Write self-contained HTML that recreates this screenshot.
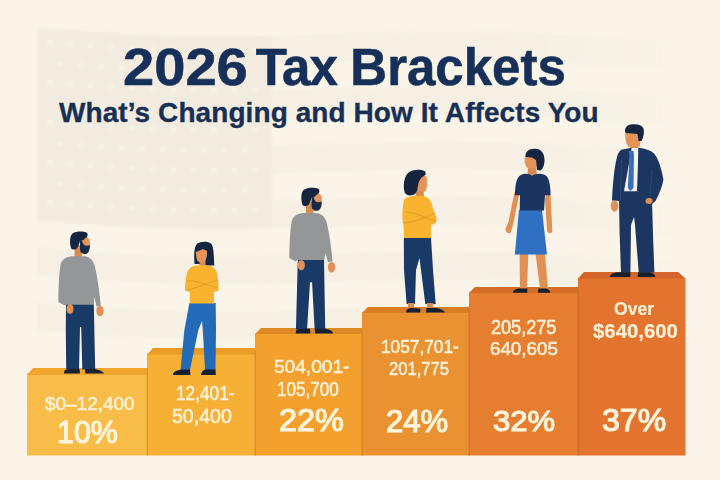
<!DOCTYPE html>
<html><head><meta charset="utf-8">
<style>
html,body{margin:0;padding:0;width:720px;height:480px;overflow:hidden;background:#faf4e9;}
body{position:relative;font-family:"Liberation Sans", sans-serif;}
.t{position:absolute;white-space:nowrap;line-height:1;}
.title{top:42px;font-size:51px;font-weight:bold;color:#16305a;-webkit-text-stroke:0.6px #16305a;}
.sub{left:59px;top:98.5px;font-size:28px;font-weight:bold;color:#182f55;-webkit-text-stroke:0.35px #182f55;letter-spacing:0.08px;}
.rng{font-size:19px;color:#fdf0d4;-webkit-text-stroke:0.6px #fdf0d4;}
.pct{font-size:29.5px;font-weight:normal;color:#fff4dc;-webkit-text-stroke:1.2px #fff4dc;}
svg{position:absolute;left:0;top:0;}
</style></head><body>
<svg width="720" height="480" viewBox="0 0 720 480" style="position:absolute;left:0;top:0;filter:blur(1.2px);-webkit-mask-image:linear-gradient(to right,#000 75%,transparent 95%);mask-image:linear-gradient(to right,#000 75%,transparent 95%);">

<g><g id="flag"><polygon points="37,28.0 47,28.7 57,29.4 67,30.2 77,30.8 87,31.5 97,32.2 107,32.8 117,33.3 127,33.9 137,34.3 147,34.8 157,35.2 167,35.5 177,35.8 187,36.0 197,36.2 207,36.3 217,36.3 227,36.3 237,36.3 247,36.2 257,36.1 267,35.9 277,35.7 287,35.4 297,35.2 307,34.9 317,34.6 327,34.2 337,33.9 347,33.6 357,33.3 367,33.0 377,32.7 387,32.4 397,32.2 407,32.0 417,31.8 427,31.7 437,31.6 447,31.6 457,31.6 467,31.7 477,31.8 487,32.0 497,32.2 507,32.5 517,32.9 527,33.3 537,33.7 547,34.2 557,34.8 567,35.4 577,36.0 587,36.6 597,37.3 607,38.0 617,38.7 627,39.4 637,40.2 647,40.9 657,41.6 667,42.3 677,43.0 680,43.2 680,70.7 677,70.5 667,69.8 657,69.1 647,68.4 637,67.7 627,66.9 617,66.2 607,65.5 597,64.8 587,64.1 577,63.5 567,62.9 557,62.3 547,61.7 537,61.2 527,60.8 517,60.4 507,60.0 497,59.7 487,59.5 477,59.3 467,59.2 457,59.1 447,59.1 437,59.1 427,59.2 417,59.3 407,59.5 397,59.7 387,59.9 377,60.2 367,60.5 357,60.8 347,61.1 337,61.4 327,61.7 317,62.1 307,62.4 297,62.7 287,62.9 277,63.2 267,63.4 257,63.6 247,63.7 237,63.8 227,63.8 217,63.8 207,63.8 197,63.7 187,63.5 177,63.3 167,63.0 157,62.7 147,62.3 137,61.8 127,61.4 117,60.8 107,60.3 97,59.7 87,59.0 77,58.3 67,57.7 57,56.9 47,56.2 37,55.5" fill="#f5efe4"/><polygon points="37,83.0 47,83.7 57,84.4 67,85.2 77,85.8 87,86.5 97,87.2 107,87.8 117,88.3 127,88.9 137,89.3 147,89.8 157,90.2 167,90.5 177,90.8 187,91.0 197,91.2 207,91.3 217,91.3 227,91.3 237,91.3 247,91.2 257,91.1 267,90.9 277,90.7 287,90.4 297,90.2 307,89.9 317,89.6 327,89.2 337,88.9 347,88.6 357,88.3 367,88.0 377,87.7 387,87.4 397,87.2 407,87.0 417,86.8 427,86.7 437,86.6 447,86.6 457,86.6 467,86.7 477,86.8 487,87.0 497,87.2 507,87.5 517,87.9 527,88.3 537,88.7 547,89.2 557,89.8 567,90.4 577,91.0 587,91.6 597,92.3 607,93.0 617,93.7 627,94.4 637,95.2 647,95.9 657,96.6 667,97.3 677,98.0 680,98.2 680,125.7 677,125.5 667,124.8 657,124.1 647,123.4 637,122.7 627,121.9 617,121.2 607,120.5 597,119.8 587,119.1 577,118.5 567,117.9 557,117.3 547,116.7 537,116.2 527,115.8 517,115.4 507,115.0 497,114.7 487,114.5 477,114.3 467,114.2 457,114.1 447,114.1 437,114.1 427,114.2 417,114.3 407,114.5 397,114.7 387,114.9 377,115.2 367,115.5 357,115.8 347,116.1 337,116.4 327,116.7 317,117.1 307,117.4 297,117.7 287,117.9 277,118.2 267,118.4 257,118.6 247,118.7 237,118.8 227,118.8 217,118.8 207,118.8 197,118.7 187,118.5 177,118.3 167,118.0 157,117.7 147,117.3 137,116.8 127,116.4 117,115.8 107,115.3 97,114.7 87,114.0 77,113.3 67,112.7 57,111.9 47,111.2 37,110.5" fill="#f5efe4"/><polygon points="37,138.0 47,138.7 57,139.4 67,140.2 77,140.8 87,141.5 97,142.2 107,142.8 117,143.3 127,143.9 137,144.3 147,144.8 157,145.2 167,145.5 177,145.8 187,146.0 197,146.2 207,146.3 217,146.3 227,146.3 237,146.3 247,146.2 257,146.1 267,145.9 277,145.7 287,145.4 297,145.2 307,144.9 317,144.6 327,144.2 337,143.9 347,143.6 357,143.3 367,143.0 377,142.7 387,142.4 397,142.2 407,142.0 417,141.8 427,141.7 437,141.6 447,141.6 457,141.6 467,141.7 477,141.8 487,142.0 497,142.2 507,142.5 517,142.9 527,143.3 537,143.7 547,144.2 557,144.8 567,145.4 577,146.0 587,146.6 597,147.3 607,148.0 617,148.7 627,149.4 637,150.2 647,150.9 657,151.6 667,152.3 677,153.0 680,153.2 680,180.7 677,180.5 667,179.8 657,179.1 647,178.4 637,177.7 627,176.9 617,176.2 607,175.5 597,174.8 587,174.1 577,173.5 567,172.9 557,172.3 547,171.7 537,171.2 527,170.8 517,170.4 507,170.0 497,169.7 487,169.5 477,169.3 467,169.2 457,169.1 447,169.1 437,169.1 427,169.2 417,169.3 407,169.5 397,169.7 387,169.9 377,170.2 367,170.5 357,170.8 347,171.1 337,171.4 327,171.7 317,172.1 307,172.4 297,172.7 287,172.9 277,173.2 267,173.4 257,173.6 247,173.7 237,173.8 227,173.8 217,173.8 207,173.8 197,173.7 187,173.5 177,173.3 167,173.0 157,172.7 147,172.3 137,171.8 127,171.4 117,170.8 107,170.3 97,169.7 87,169.0 77,168.3 67,167.7 57,166.9 47,166.2 37,165.5" fill="#f5efe4"/><polygon points="37,193.0 47,193.7 57,194.4 67,195.2 77,195.8 87,196.5 97,197.2 107,197.8 117,198.3 127,198.9 137,199.3 147,199.8 157,200.2 167,200.5 177,200.8 187,201.0 197,201.2 207,201.3 217,201.3 227,201.3 237,201.3 247,201.2 257,201.1 267,200.9 277,200.7 287,200.4 297,200.2 307,199.9 317,199.6 327,199.2 337,198.9 347,198.6 357,198.3 367,198.0 377,197.7 387,197.4 397,197.2 407,197.0 417,196.8 427,196.7 437,196.6 447,196.6 457,196.6 467,196.7 477,196.8 487,197.0 497,197.2 507,197.5 517,197.9 527,198.3 537,198.7 547,199.2 557,199.8 567,200.4 577,201.0 587,201.6 597,202.3 607,203.0 617,203.7 627,204.4 637,205.2 647,205.9 657,206.6 667,207.3 677,208.0 680,208.2 680,235.7 677,235.5 667,234.8 657,234.1 647,233.4 637,232.7 627,231.9 617,231.2 607,230.5 597,229.8 587,229.1 577,228.5 567,227.9 557,227.3 547,226.7 537,226.2 527,225.8 517,225.4 507,225.0 497,224.7 487,224.5 477,224.3 467,224.2 457,224.1 447,224.1 437,224.1 427,224.2 417,224.3 407,224.5 397,224.7 387,224.9 377,225.2 367,225.5 357,225.8 347,226.1 337,226.4 327,226.7 317,227.1 307,227.4 297,227.7 287,227.9 277,228.2 267,228.4 257,228.6 247,228.7 237,228.8 227,228.8 217,228.8 207,228.8 197,228.7 187,228.5 177,228.3 167,228.0 157,227.7 147,227.3 137,226.8 127,226.4 117,225.8 107,225.3 97,224.7 87,224.0 77,223.3 67,222.7 57,221.9 47,221.2 37,220.5" fill="#f5efe4"/><polygon points="37,248.0 47,248.7 57,249.4 67,250.2 77,250.8 87,251.5 97,252.2 107,252.8 117,253.3 127,253.9 137,254.3 147,254.8 157,255.2 167,255.5 177,255.8 187,256.0 197,256.2 207,256.3 217,256.3 227,256.3 237,256.3 247,256.2 257,256.1 267,255.9 277,255.7 287,255.4 297,255.2 307,254.9 317,254.6 327,254.2 337,253.9 347,253.6 357,253.3 367,253.0 377,252.7 387,252.4 397,252.2 407,252.0 417,251.8 427,251.7 437,251.6 447,251.6 457,251.6 467,251.7 477,251.8 487,252.0 497,252.2 507,252.5 517,252.9 527,253.3 537,253.7 547,254.2 557,254.8 567,255.4 577,256.0 587,256.6 597,257.3 607,258.0 617,258.7 627,259.4 637,260.2 647,260.9 657,261.6 667,262.3 677,263.0 680,263.2 680,290.7 677,290.5 667,289.8 657,289.1 647,288.4 637,287.7 627,286.9 617,286.2 607,285.5 597,284.8 587,284.1 577,283.5 567,282.9 557,282.3 547,281.7 537,281.2 527,280.8 517,280.4 507,280.0 497,279.7 487,279.5 477,279.3 467,279.2 457,279.1 447,279.1 437,279.1 427,279.2 417,279.3 407,279.5 397,279.7 387,279.9 377,280.2 367,280.5 357,280.8 347,281.1 337,281.4 327,281.7 317,282.1 307,282.4 297,282.7 287,282.9 277,283.2 267,283.4 257,283.6 247,283.7 237,283.8 227,283.8 217,283.8 207,283.8 197,283.7 187,283.5 177,283.3 167,283.0 157,282.7 147,282.3 137,281.8 127,281.4 117,280.8 107,280.3 97,279.7 87,279.0 77,278.3 67,277.7 57,276.9 47,276.2 37,275.5" fill="#f5efe4"/><polygon points="37,303.0 47,303.7 57,304.4 67,305.2 77,305.8 87,306.5 97,307.2 107,307.8 117,308.3 127,308.9 137,309.3 147,309.8 157,310.2 167,310.5 177,310.8 187,311.0 197,311.2 207,311.3 217,311.3 227,311.3 237,311.3 247,311.2 257,311.1 267,310.9 277,310.7 287,310.4 297,310.2 307,309.9 317,309.6 327,309.2 337,308.9 347,308.6 357,308.3 367,308.0 377,307.7 387,307.4 397,307.2 407,307.0 417,306.8 427,306.7 437,306.6 447,306.6 457,306.6 467,306.7 477,306.8 487,307.0 497,307.2 507,307.5 517,307.9 527,308.3 537,308.7 547,309.2 557,309.8 567,310.4 577,311.0 587,311.6 597,312.3 607,313.0 617,313.7 627,314.4 637,315.2 647,315.9 657,316.6 667,317.3 677,318.0 680,318.2 680,345.7 677,345.5 667,344.8 657,344.1 647,343.4 637,342.7 627,341.9 617,341.2 607,340.5 597,339.8 587,339.1 577,338.5 567,337.9 557,337.3 547,336.7 537,336.2 527,335.8 517,335.4 507,335.0 497,334.7 487,334.5 477,334.3 467,334.2 457,334.1 447,334.1 437,334.1 427,334.2 417,334.3 407,334.5 397,334.7 387,334.9 377,335.2 367,335.5 357,335.8 347,336.1 337,336.4 327,336.7 317,337.1 307,337.4 297,337.7 287,337.9 277,338.2 267,338.4 257,338.6 247,338.7 237,338.8 227,338.8 217,338.8 207,338.8 197,338.7 187,338.5 177,338.3 167,338.0 157,337.7 147,337.3 137,336.8 127,336.4 117,335.8 107,335.3 97,334.7 87,334.0 77,333.3 67,332.7 57,331.9 47,331.2 37,330.5" fill="#f5efe4"/><polygon points="37,28.0 47,28.7 57,29.4 67,30.2 77,30.8 87,31.5 97,32.2 107,32.8 117,33.3 127,33.9 137,34.3 147,34.8 157,35.2 167,35.5 177,35.8 187,36.0 197,36.2 207,36.3 217,36.3 227,36.3 237,36.3 247,36.2 257,36.1 267,35.9 272,35.8 272,228.3 267,228.4 257,228.6 247,228.7 237,228.8 227,228.8 217,228.8 207,228.8 197,228.7 187,228.5 177,228.3 167,228.0 157,227.7 147,227.3 137,226.8 127,226.4 117,225.8 107,225.3 97,224.7 87,224.0 77,223.3 67,222.7 57,221.9 47,221.2 37,220.5" fill="#f2ece0"/><g fill="#f6f1e6"><circle cx="50.0" cy="42.9" r="2.8"/><circle cx="70.5" cy="44.4" r="2.8"/><circle cx="91.0" cy="45.8" r="2.8"/><circle cx="111.5" cy="47.0" r="2.8"/><circle cx="132.0" cy="48.1" r="2.8"/><circle cx="152.5" cy="49.0" r="2.8"/><circle cx="173.0" cy="49.7" r="2.8"/><circle cx="193.5" cy="50.1" r="2.8"/><circle cx="214.0" cy="50.3" r="2.8"/><circle cx="234.5" cy="50.3" r="2.8"/><circle cx="255.0" cy="50.1" r="2.8"/><circle cx="60.2" cy="63.7" r="2.8"/><circle cx="80.8" cy="65.1" r="2.8"/><circle cx="101.2" cy="66.4" r="2.8"/><circle cx="121.8" cy="67.6" r="2.8"/><circle cx="142.2" cy="68.6" r="2.8"/><circle cx="162.8" cy="69.4" r="2.8"/><circle cx="183.2" cy="69.9" r="2.8"/><circle cx="203.8" cy="70.3" r="2.8"/><circle cx="224.2" cy="70.3" r="2.8"/><circle cx="244.8" cy="70.2" r="2.8"/><circle cx="50.0" cy="82.9" r="2.8"/><circle cx="70.5" cy="84.4" r="2.8"/><circle cx="91.0" cy="85.8" r="2.8"/><circle cx="111.5" cy="87.0" r="2.8"/><circle cx="132.0" cy="88.1" r="2.8"/><circle cx="152.5" cy="89.0" r="2.8"/><circle cx="173.0" cy="89.7" r="2.8"/><circle cx="193.5" cy="90.1" r="2.8"/><circle cx="214.0" cy="90.3" r="2.8"/><circle cx="234.5" cy="90.3" r="2.8"/><circle cx="255.0" cy="90.1" r="2.8"/><circle cx="60.2" cy="103.7" r="2.8"/><circle cx="80.8" cy="105.1" r="2.8"/><circle cx="101.2" cy="106.4" r="2.8"/><circle cx="121.8" cy="107.6" r="2.8"/><circle cx="142.2" cy="108.6" r="2.8"/><circle cx="162.8" cy="109.4" r="2.8"/><circle cx="183.2" cy="109.9" r="2.8"/><circle cx="203.8" cy="110.3" r="2.8"/><circle cx="224.2" cy="110.3" r="2.8"/><circle cx="244.8" cy="110.2" r="2.8"/><circle cx="50.0" cy="122.9" r="2.8"/><circle cx="70.5" cy="124.4" r="2.8"/><circle cx="91.0" cy="125.8" r="2.8"/><circle cx="111.5" cy="127.0" r="2.8"/><circle cx="132.0" cy="128.1" r="2.8"/><circle cx="152.5" cy="129.0" r="2.8"/><circle cx="173.0" cy="129.7" r="2.8"/><circle cx="193.5" cy="130.1" r="2.8"/><circle cx="214.0" cy="130.3" r="2.8"/><circle cx="234.5" cy="130.3" r="2.8"/><circle cx="255.0" cy="130.1" r="2.8"/><circle cx="60.2" cy="143.7" r="2.8"/><circle cx="80.8" cy="145.1" r="2.8"/><circle cx="101.2" cy="146.4" r="2.8"/><circle cx="121.8" cy="147.6" r="2.8"/><circle cx="142.2" cy="148.6" r="2.8"/><circle cx="162.8" cy="149.4" r="2.8"/><circle cx="183.2" cy="149.9" r="2.8"/><circle cx="203.8" cy="150.3" r="2.8"/><circle cx="224.2" cy="150.3" r="2.8"/><circle cx="244.8" cy="150.2" r="2.8"/><circle cx="50.0" cy="162.9" r="2.8"/><circle cx="70.5" cy="164.4" r="2.8"/><circle cx="91.0" cy="165.8" r="2.8"/><circle cx="111.5" cy="167.0" r="2.8"/><circle cx="132.0" cy="168.1" r="2.8"/><circle cx="152.5" cy="169.0" r="2.8"/><circle cx="173.0" cy="169.7" r="2.8"/><circle cx="193.5" cy="170.1" r="2.8"/><circle cx="214.0" cy="170.3" r="2.8"/><circle cx="234.5" cy="170.3" r="2.8"/><circle cx="255.0" cy="170.1" r="2.8"/><circle cx="60.2" cy="183.7" r="2.8"/><circle cx="80.8" cy="185.1" r="2.8"/><circle cx="101.2" cy="186.4" r="2.8"/><circle cx="121.8" cy="187.6" r="2.8"/><circle cx="142.2" cy="188.6" r="2.8"/><circle cx="162.8" cy="189.4" r="2.8"/><circle cx="183.2" cy="189.9" r="2.8"/><circle cx="203.8" cy="190.3" r="2.8"/><circle cx="224.2" cy="190.3" r="2.8"/><circle cx="244.8" cy="190.2" r="2.8"/><circle cx="50.0" cy="202.9" r="2.8"/><circle cx="70.5" cy="204.4" r="2.8"/><circle cx="91.0" cy="205.8" r="2.8"/><circle cx="111.5" cy="207.0" r="2.8"/><circle cx="132.0" cy="208.1" r="2.8"/><circle cx="152.5" cy="209.0" r="2.8"/><circle cx="173.0" cy="209.7" r="2.8"/><circle cx="193.5" cy="210.1" r="2.8"/><circle cx="214.0" cy="210.3" r="2.8"/><circle cx="234.5" cy="210.3" r="2.8"/><circle cx="255.0" cy="210.1" r="2.8"/></g></g></g></g>
</svg>
<svg width="720" height="480" viewBox="0 0 720 480">
  <!-- bars -->
  <g id="bars">
    <rect x="27" y="373" width="120.5" height="82.5" fill="#f8bd48"/>
    <polygon points="33,368 147.5,368 147.5,375 27,375" fill="#efa52e"/>
    <rect x="147" y="353.5" width="108" height="102" fill="#f7b036"/>
    <polygon points="153,348 255.5,348 255.5,354.5 147,354.5" fill="#e99c26"/>
    <rect x="255" y="333.5" width="107" height="122" fill="#f3a02f"/>
    <polygon points="261,328 362.5,328 362.5,334 255,334" fill="#de8a24"/>
    <rect x="362" y="312.5" width="107.5" height="143" fill="#ea9232"/>
    <polygon points="368,307 469.5,307 469.5,313 362,313" fill="#d97d25"/>
    <rect x="469" y="292.5" width="109" height="163" fill="#e57e30"/>
    <polygon points="475,287 578.5,287 578.5,293 469,293" fill="#d36d27"/>
    <rect x="578" y="278" width="107.5" height="177.5" fill="#e3742f"/>
    <polygon points="584,272 678,272 685.5,278.5 578,278.5" fill="#d26527"/>
    <rect x="146.5" y="368" width="1.5" height="87.5" fill="#df972e"/>
    <rect x="254.5" y="350" width="1.5" height="105.5" fill="#dc8e2c"/>
    <rect x="361.5" y="330" width="1.5" height="125.5" fill="#d8832a"/>
    <rect x="468.5" y="309" width="1.5" height="146.5" fill="#d47728"/>
    <rect x="577.5" y="289" width="1.5" height="166.5" fill="#d06c27"/>
  </g>

  <!-- figure 1: man beard -->
  <g id="man1top">
    <path d="M74.5,245 L81.5,245 L82,258 L74.5,258 Z" fill="#d88a52"/>
    <path d="M81.5,236.5 C85,236 88.5,237 89.5,239.5 C90.2,242 90,245 89.5,248 L84,248.5 L80.5,244 Z" fill="#e5945a"/>
    <path d="M80,240.5 L82,240.5 C82.5,243 83.5,245 85,245.5 C87,246 88.5,245.5 89.8,245 C90,249 89,253 86,254 C83,254.5 80.5,253 80,250 Z" fill="#172a48"/>
    <path d="M71,248 C69.5,242 69.8,236 72.5,233.5 C76,231 83,231 86.5,232.5 C88.2,233.5 88,236 86.5,237.5 C85,238.5 84,239 83.5,240 L80,241 C79.5,243 78.5,246 77,248.5 C75,250 72,250 71,248 Z" fill="#15253f"/>
  </g>
  <g id="man1">
    <path d="M66,304 L93.8,304 L95.2,369.5 L82.3,369.5 L81.2,327 L80,327 L79,369.5 L66.2,369.5 L65.8,330 Z" fill="#193a66"/>
    <path d="M72,256.2 C66,256.5 61.5,259.5 60.5,265 C59,275 58.2,290 58.4,302 L64.6,305.5 L66,304.8 L93.8,304.8 L94.5,297 L96.5,306.5 L100.8,305.8 C99.5,292 97,275 94.8,266 C93.3,260 89.5,256.5 84,256.2 Z" fill="#949698"/>
    <ellipse cx="70" cy="309" rx="3.5" ry="5" fill="#e28f55"/>
    <ellipse cx="100" cy="311" rx="3.6" ry="5.2" fill="#e28f55"/>
    <path d="M64,373.5 L64.5,370.5 C66,368.8 72,368.8 79.5,369 L80,373.5 Z" fill="#16202e"/>
    <path d="M85,369 L95,369 C99,370 103,371 104,373.5 L85,373.5 Z" fill="#16202e"/>
  </g>
  <g transform="translate(229.4,-50.1) scale(1.027)">
    <path d="M74.5,245 L81.5,245 L82,258 L74.5,258 Z" fill="#d88a52"/>
    <path d="M81.5,236.5 C85,236 88.5,237 89.5,239.5 C90.2,242 90,245 89.5,248 L84,248.5 L80.5,244 Z" fill="#e5945a"/>
    <path d="M80,240.5 L82,240.5 C82.5,243 83.5,245 85,245.5 C87,246 88.5,245.5 89.8,245 C90,249 89,253 86,254 C83,254.5 80.5,253 80,250 Z" fill="#172a48"/>
    <path d="M71,248 C69.5,242 69.8,236 72.5,233.5 C76,231 83,231 86.5,232.5 C88.2,233.5 88,236 86.5,237.5 C85,238.5 84,239 83.5,240 L80,241 C79.5,243 78.5,246 77,248.5 C75,250 72,250 71,248 Z" fill="#15253f"/>
    <path d="M66.6,301.5 L92.1,301.5 L93.3,369.5 L83,369.5 L80.5,323.5 L78.5,323.5 L75.6,369.5 L64.8,369.5 Z" fill="#193a66"/>
    <path d="M72,256.2 C66,256.5 61.5,259.5 60.5,265 C59,275 58.2,290 58.4,300 L64.6,303.5 L66,302 L92.5,302 L93.5,295 L96,304 L100.3,303.5 C99.5,290 97,275 94.8,266 C93.3,260 89.5,256.5 84,256.2 Z" fill="#949698"/>
    <ellipse cx="70" cy="307" rx="3.5" ry="5" fill="#e28f55"/>
    <ellipse cx="99.5" cy="309" rx="3.6" ry="5.2" fill="#e28f55"/>
    <path d="M64.5,373.5 L65,370.5 C66,368.8 72,368.8 78.6,369 L78.8,373.5 Z" fill="#16202e"/>
    <path d="M83.3,369 L93.5,369 C97.5,370 100.5,371 101,373.5 L83.3,373.5 Z" fill="#16202e"/>
  </g>
  <!-- figure 2: woman crossed arms -->
  <g id="woman2">
    <path d="M194.5,264 C193.8,255 194,247 197,243.8 C200.5,241 208,241 211,243.5 C213.8,246.5 213.8,255 214.3,265.5 L206,265.5 L199,264 Z" fill="#15253f"/>
    <path d="M199.5,259 L205.5,259 L205.5,266.5 L199.5,266.5 Z" fill="#d88a52"/>
    <path d="M196,249 C198,248 204,247.5 206.8,249.5 C207.5,253 207,258 205,261 C203,262.5 199,262.5 197.5,261 C196,258 195.6,253 196,249 Z" fill="#e5945a"/>
    <path d="M195.5,250 C197,245 203,244 207.5,246.5 L207.2,251 L203,249 L196,252 Z" fill="#15253f"/>
    <path d="M189.4,303 L215.7,303 L216,330 L215.5,370 L205,370 L202.8,330 L202,321 L198.3,330 L190,370 L180.5,370 L184.4,330 Z" fill="#236bb8"/>
    <path d="M199,265.2 C193,265.5 189,267.5 187.5,271.5 C185.5,277.5 185,285 185,290.5 L190,292 L190,303.6 L214,303.6 L214,292 L218.6,290.5 C218.8,284 218,277 216.5,271.5 C215,267.5 211,265.5 206,265.2 Z" fill="#f9b32f"/>
    <path d="M186,281 C195,279 208,286 218,288 M186.5,290 C195,289 207,283 218,280" stroke="#e3a02a" stroke-width="1.1" fill="none"/>
    <path d="M172.8,375 C173,371.5 178,369.5 182,369.4 L190,369.5 L190.5,375 Z" fill="#16202e"/>
    <path d="M201,375 C201.5,371 204,369.5 206,369.5 L215.5,369.5 L215.8,375 Z" fill="#16202e"/>
  </g>
  <!-- figure 4: woman crossed arms navy pants -->
  <g id="woman4">
    <path d="M416,189 L423.5,189 L424,198 L415.5,198 Z" fill="#d88a52"/>
    <path d="M418,176 C421,174.5 425,175 426.5,177 C427.5,181 427.5,187 426,190.5 C424,192.5 420,192.5 417.5,191 Z" fill="#e5945a"/>
    <path d="M404.5,192 C403,185 404,177 408,173 C412,169.5 420,169 424.5,171 C426.5,172.5 426,175 424,176 C420,178 418.5,182 418,186 C417.5,190 416.5,194 413,195 C409,196 405.5,195 404.5,192 Z" fill="#15253f"/>
    <path d="M403.8,238 L431,238 L433,270 L435.7,304 L425.3,304 L421,270 L419.5,258 L416,270 L415,304 L406.6,304 L404,270 Z" fill="#193a66"/>
    <path d="M404,200 C406,196 420,195 425,196.5 C430,198 432,203 433.5,210 L436.6,218 C437,222 435,225 431,225 L431,238 L404,238 L403.5,225 C402,220 401.9,210 404,200 Z" fill="#f9b32f"/>
    <path d="M404,212 C414,211 426,218 436,222 M404,223 C414,223 426,217 435,213" stroke="#e3a02a" stroke-width="1.1" fill="none"/>
    <rect x="408" y="303" width="6" height="5.5" fill="#d88a52"/>
    <rect x="427" y="303" width="6" height="5.5" fill="#d88a52"/>
    <path d="M406,312.5 C406,309 409,307.9 412,307.9 L420,308.5 C420.5,310 420.5,311.5 420,312.5 Z" fill="#16202e"/>
    <path d="M426,312.5 L426.5,308 L436,307.9 C440,308.5 444,310 445,312.5 Z" fill="#16202e"/>
  </g>
  <!-- figure 5: woman skirt -->
  <g id="woman5">
    <path d="M528,166 L536,166 L537,175 L527.5,175 Z" fill="#d88a52"/>
    <path d="M526,155 C529,154 534,154.5 536,156 L537,166 C535,169 529,169.5 526.5,167 C524,163 524,159 526,155 Z" fill="#e5945a"/>
    <path d="M525.5,157 C525,152 529,148.5 535,148.8 C541,149 544.5,153 544.5,160 C544.5,165 543,169 540.5,170.5 L537,170 L536,160 L532,157.5 Z" fill="#15253f"/>
    <path d="M514.5,192 L519,195 L513,225 L510.6,233 C508,234 505.5,232 505.4,229 L508.5,222 Z" fill="#e28f55"/>
    <path d="M546,192 L550.5,195 L552,225 L552.3,232 C550.5,234 547.5,233.5 547,230 L546.5,222 L545,200 Z" fill="#e28f55"/>
    <path d="M519.6,254 L528.3,254 L527,288.5 L520,288.5 Z" fill="#e28f55"/>
    <path d="M535.6,254 L545,254 L548,288.5 L540,288.5 Z" fill="#e28f55"/>
    <path d="M519,210 L542,210 L547,254.6 L514.8,254.6 Z" fill="#3070c3"/>
    <path d="M521,175 C525,172.5 530,174.5 532,175.5 C535,174 540,172.5 545,175 C549,177 550.6,185 550.6,195.3 L545,195.3 L544,210.6 L519.7,210.6 L520,195.3 L515,195.3 C515,185 516.5,177 521,175 Z" fill="#1b3560"/>
    <path d="M512.7,292.7 C513,290 517,288.5 520,288.5 L527.3,288.5 L527.3,292.7 Z" fill="#16202e"/>
    <path d="M537.7,292.7 L538.5,288.5 L546,288.5 C549,289.5 550.2,291 550.2,292.7 Z" fill="#16202e"/>
  </g>
  <!-- figure 6: suit man -->
  <g id="man6">
    <path d="M630,141 L638,141 L638.5,151 L630,151 Z" fill="#d88a52"/>
    <path d="M625,131 L638,131 L640.8,139 L639.8,146.5 L628,146.7 C625.8,143 624.8,137 625,131 Z" fill="#e5945a"/>
    <path d="M625.2,132 C624.5,128 627,125 631,124.5 C636,123.8 641,124.5 643.3,128 C644.5,131 643.8,137 641.5,141 L638.5,141 L637.5,134 L626,133 Z" fill="#15253f"/>
    <path d="M619,200 L652,200 L653,235 L654.4,272.5 L638.75,272.5 L635,225 L634,217 L631,225 L630.4,272.5 L621,272.5 L619.5,230 Z" fill="#1c3661"/>
    <path d="M631,148 L640,148 C646,149 651,150.5 654,153.5 C658,158 661.5,168 663.4,179.4 C662.5,186 659,194 655.5,201 L652,204 L620,204 L620,201 L612,200.5 C612.5,188 614,168 617,157 C618,153 619.5,150.5 622,149.5 Z" fill="#1c3661"/>
    <path d="M631.7,148 L638.5,148 L639,191.3 L624,191.3 Z" fill="#f7f5f0"/>
    <path d="M628.5,151 L633.5,151 L634,155 L633.5,188 L630.5,191 L627.8,188 L629.5,155 Z" fill="#3b6fba"/>
    <path d="M638.5,148 L645,150 L640,191.5 L637,191.5 Z" fill="#1c3661"/>
    <path d="M621.5,160 L620.5,200" stroke="#2c4a7a" stroke-width="0.8" fill="none"/>
    <path d="M652,170 L650,196" stroke="#2c4a7a" stroke-width="0.8" fill="none"/>
    <ellipse cx="614.5" cy="206" rx="3.8" ry="5.5" fill="#e28f55"/>
    <ellipse cx="649" cy="201" rx="3.5" ry="3" fill="#e28f55"/>
    <path d="M609.6,277 C610,274 614,272.3 620,272.3 L630.4,272.3 L630.4,277 Z" fill="#16202e"/>
    <path d="M637.7,277 L638,272.3 L650,272.3 C653,273 655.4,275 655.4,277 Z" fill="#16202e"/>
  </g>
</svg>
<div class="t title" style="left:123.3px;transform:scaleX(1.1);transform-origin:0 0;">2026</div>
<div class="t title" style="left:255.7px;letter-spacing:-1px;">Tax</div>
<div class="t title" style="left:350.3px;">Brackets</div>
<div class="t sub">What&rsquo;s Changing and How It Affects You</div>

<div class="t rng" style="left:45.26px;top:394.15px;font-size:19.25px;transform:scaleX(0.984);transform-origin:0 0;">$0&ndash;12,400</div>
<div class="t pct" style="left:57.36px;top:417.08px;font-size:30.49px;transform:scaleX(0.997);transform-origin:0 0;">10%</div>
<div class="t rng" style="left:175.54px;top:383.85px;font-size:19.33px;transform:scaleX(0.893);transform-origin:0 0;">12,401-</div>
<div class="t rng" style="left:172.46px;top:405.92px;font-size:20.29px;transform:scaleX(0.964);transform-origin:0 0;">50,400</div>
<div class="t rng" style="left:274.46px;top:358.15px;font-size:18.92px;transform:scaleX(1.010);transform-origin:0 0;">504,001-</div>
<div class="t rng" style="left:277.08px;top:379.67px;font-size:19.89px;transform:scaleX(0.860);transform-origin:0 0;">105,700</div>
<div class="t pct" style="left:279.46px;top:405.43px;font-size:31.65px;transform:scaleX(1.025);transform-origin:0 0;">22%</div>
<div class="t rng" style="left:381.46px;top:337.83px;font-size:18.51px;transform:scaleX(0.933);transform-origin:0 0;">1057,701-</div>
<div class="t rng" style="left:389.18px;top:359.54px;font-size:18.51px;transform:scaleX(0.898);transform-origin:0 0;">201,775</div>
<div class="t pct" style="left:386.00px;top:406.38px;font-size:30.67px;transform:scaleX(1.014);transform-origin:0 0;">24%</div>
<div class="t rng" style="left:490.80px;top:318.32px;font-size:19.34px;transform:scaleX(0.935);transform-origin:0 0;">205,275</div>
<div class="t rng" style="left:490.00px;top:339.70px;font-size:18.94px;transform:scaleX(0.991);transform-origin:0 0;">640,605</div>
<div class="t pct" style="left:493.08px;top:405.50px;font-size:29.78px;transform:scaleX(1.043);transform-origin:0 0;">32%</div>
<div class="t rng" style="left:614.00px;top:300.15px;font-size:18.74px;transform:scaleX(0.936);transform-origin:0 0;font-weight:bold;-webkit-text-stroke:0.2px #fdf0d4;">Over</div>
<div class="t rng" style="left:593.26px;top:322.40px;font-size:19.64px;transform:scaleX(1.037);transform-origin:0 0;font-weight:bold;-webkit-text-stroke:0.2px #fdf0d4;">$640,600</div>
<div class="t pct" style="left:601.54px;top:404.73px;font-size:31.27px;transform:scaleX(1.026);transform-origin:0 0;">37%</div>
</body></html>
